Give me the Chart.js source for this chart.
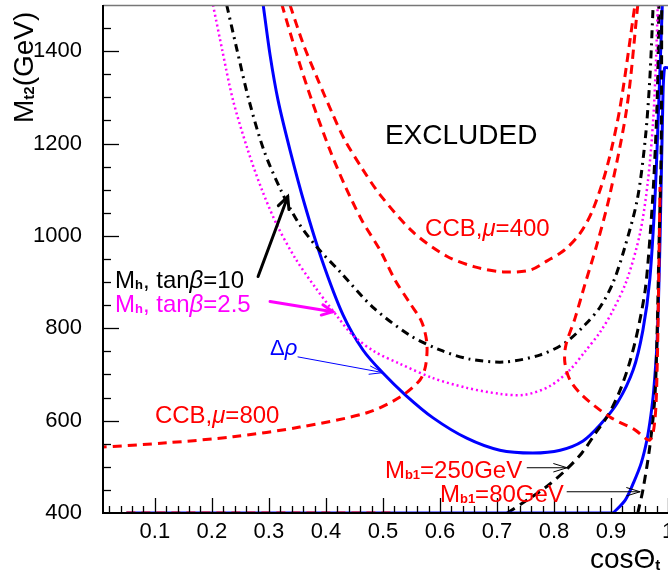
<!DOCTYPE html>
<html>
<head>
<meta charset="utf-8">
<script src="https://cdn.jsdelivr.net/npm/chart.js@4.4.1/dist/chart.umd.min.js"></script>
<style>
  html, body { margin: 0; padding: 0; background: #fff; }
  #wrap { width: 668px; height: 578px; }
</style>
</head>
<body>
<div id="wrap"><canvas id="c" width="668" height="578"></canvas></div>
<script>
// ---------- DATA ----------
const X_MIN = 0.009, X_MAX = 1.0, Y_MIN = 400, Y_MAX = 1500;
const xTickValues = [0.1, 0.2, 0.3, 0.4, 0.5, 0.6, 0.7, 0.8, 0.9, 1.0];
const yTickValues = [400, 600, 800, 1000, 1200, 1400];

// Δρ (blue solid, main U)
const dRhoX = [0.290, 0.302, 0.316, 0.337, 0.363, 0.393, 0.430, 0.465, 0.500, 0.539, 0.588, 0.647, 0.705, 0.763, 0.811, 0.851, 0.881, 0.911, 0.939, 0.956, 0.968, 0.977, 0.984, 0.990];
const dRhoY = [1500, 1392, 1294, 1186, 1067, 948, 829, 753, 703, 656, 606, 562, 536, 530, 536, 556, 591, 638, 710, 796, 905, 1078, 1294, 1500];
// blue solid, right wall
const blue2X = [0.904, 0.925, 0.940, 0.953, 0.963, 0.970, 0.975, 0.981, 0.986, 0.991, 0.994, 1.0];
const blue2Y = [400, 428, 467, 508, 558, 612, 666, 775, 991, 1294, 1364, 1364];
const blueFloorX = [0.05, 0.904];
const blueFloorY = [400, 400];

// M_h, tanβ=10 (black dash-dot)
const mh10X = [0.226, 0.244, 0.265, 0.291, 0.321, 0.351, 0.384, 0.425, 0.482, 0.547, 0.600, 0.653, 0.714, 0.775, 0.819, 0.854, 0.881, 0.904, 0.923, 0.946, 0.960, 0.968, 0.974];
const mh10Y = [1500, 1403, 1294, 1186, 1099, 1030, 976, 922, 846, 785, 753, 733, 727, 742, 768, 807, 846, 900, 970, 1078, 1208, 1338, 1500];

// M_h, tanβ=2.5 (magenta dotted)
const mh25X = [0.202, 0.218, 0.237, 0.263, 0.288, 0.314, 0.346, 0.381, 0.421, 0.447, 0.486, 0.530, 0.588, 0.647, 0.705, 0.749, 0.793, 0.828, 0.854, 0.881, 0.904, 0.928, 0.951, 0.965, 0.974, 0.979, 0.982];
const mh25Y = [1500, 1403, 1294, 1186, 1099, 1024, 952, 889, 824, 785, 749, 723, 692, 671, 658, 656, 675, 710, 749, 792, 840, 905, 1006, 1121, 1251, 1381, 1500];

// CCB, μ=400 (red dashed U)
const ccb400X = [0.337, 0.361, 0.386, 0.411, 0.433, 0.463, 0.495, 0.553, 0.612, 0.661, 0.711, 0.758, 0.788, 0.819, 0.846, 0.868, 0.893, 0.916, 0.942];
const ccb400Y = [1500, 1413, 1338, 1266, 1208, 1147, 1089, 1008, 956, 933, 922, 926, 946, 970, 1006, 1056, 1149, 1279, 1500];

// CCB, μ=800 (red dashed) left branch
const ccb800LX = [0.0, 0.121, 0.237, 0.354, 0.472, 0.530, 0.565, 0.575, 0.577, 0.568, 0.547, 0.521, 0.495, 0.463, 0.433, 0.407, 0.375, 0.349, 0.323];
const ccb800LY = [542, 552, 565, 586, 617, 651, 688, 720, 768, 814, 855, 905, 969, 1034, 1110, 1186, 1294, 1392, 1500];
// CCB, μ=800 right branch
const ccb800RX = [0.947, 0.928, 0.898, 0.875, 0.854, 0.837, 0.821, 0.819, 0.828, 0.851, 0.898, 0.942, 0.968, 0.977, 0.981, 0.984, 0.986];
const ccb800RY = [1500, 1279, 1089, 980, 894, 822, 764, 727, 688, 653, 608, 580, 558, 601, 716, 933, 1106];
const redFloorX = [0.05, 0.52];
const redFloorY = [400, 400];

// M_b1 = 250 GeV (black dashed)
const mb250X = [0.718, 0.753, 0.788, 0.819, 0.849, 0.874, 0.895, 0.916, 0.933, 0.947, 0.960, 0.968, 0.975, 0.981, 0.984];
const mb250Y = [400, 428, 458, 491, 530, 575, 612, 666, 727, 796, 883, 991, 1121, 1294, 1500];
// M_b1 = 80 GeV (black dashed)
const mb80X = [0.947, 0.956, 0.968, 0.977, 0.981, 0.984, 0.988, 0.989];
const mb80Y = [400, 450, 543, 651, 796, 969, 1186, 1500];

// ---------- helpers ----------
const pts = (xs, ys) => xs.map((x, i) => ({ x: x, y: ys[i] }));
const FONT = "'Liberation Sans', Arial, Helvetica, sans-serif";

function line(label, xs, ys, color, width, dash, tension) {
  return {
    label: label, data: pts(xs, ys), showLine: true, fill: false,
    borderColor: color, borderWidth: width, borderDash: dash || [],
    pointRadius: 0, pointHoverRadius: 0, tension: tension === undefined ? 0.3 : tension,
    borderCapStyle: 'butt'
  };
}

const datasets = [
  line('redFloor', redFloorX, redFloorY, '#ff0000', 3, [9, 6], 0),
  line('blueFloor', blueFloorX, blueFloorY, '#0000ff', 3, [], 0),
  line('CCB mu=400', ccb400X, ccb400Y, '#ff0000', 3, [9, 6]),
  line('CCB mu=800 L', ccb800LX, ccb800LY, '#ff0000', 3, [9, 6]),
  line('CCB mu=800 R', ccb800RX, ccb800RY, '#ff0000', 3, [9, 6]),
  line('Mh tb=2.5', mh25X, mh25Y, '#ff00ff', 2.5, [2, 3]),
  line('Mh tb=10', mh10X, mh10Y, '#000000', 3, [8, 5, 2, 5]),
  line('Mb1=250', mb250X, mb250Y, '#000000', 3, [9, 6]),
  line('Mb1=80', mb80X, mb80Y, '#000000', 3, [9, 6]),
  line('drho', dRhoX, dRhoY, '#0000ff', 3, []),
  line('blue2', blue2X, blue2Y, '#0000ff', 3, [])
];

function fontOf(p) {
  return (p.i ? 'italic ' : '') + (p.b ? 'bold ' : '') + p.s + 'px ' + FONT;
}
function rich(ctx, x, y, parts, color, align) {
  ctx.save();
  ctx.fillStyle = color;
  ctx.textBaseline = 'alphabetic';
  ctx.textAlign = 'left';
  let total = 0;
  parts.forEach(p => { ctx.font = fontOf(p); total += ctx.measureText(p.t).width; });
  let cx = align === 'center' ? x - total / 2 : x;
  parts.forEach(p => {
    ctx.font = fontOf(p);
    ctx.fillText(p.t, cx, y + (p.dy || 0));
    cx += ctx.measureText(p.t).width;
  });
  ctx.restore();
}
function arrow(ctx, x1, y1, x2, y2, color, width, head, ang) {
  ctx.save();
  ctx.strokeStyle = color; ctx.lineWidth = width; ctx.lineCap = 'round'; ctx.lineJoin = 'miter';
  ctx.setLineDash([]);
  ctx.beginPath(); ctx.moveTo(x1, y1); ctx.lineTo(x2, y2); ctx.stroke();
  const a = Math.atan2(y2 - y1, x2 - x1);
  ctx.beginPath();
  ctx.moveTo(x2 - head * Math.cos(a - ang), y2 - head * Math.sin(a - ang));
  ctx.lineTo(x2, y2);
  ctx.lineTo(x2 - head * Math.cos(a + ang), y2 - head * Math.sin(a + ang));
  ctx.stroke();
  ctx.restore();
}

// ---------- decorations plugin (axes frame, inward ticks, titles, labels) ----------
const deco = {
  id: 'deco',
  afterDatasetsDraw(chart) {
    const { ctx, chartArea: ca, scales } = chart;
    const X = v => scales.x.getPixelForValue(v);
    const Y = v => scales.y.getPixelForValue(v);
    ctx.save();
    ctx.setLineDash([]);
    ctx.strokeStyle = '#777'; ctx.lineWidth = 1.5;
    ctx.beginPath(); ctx.moveTo(ca.left, ca.top + 0.5); ctx.lineTo(ca.right, ca.top + 0.5); ctx.stroke();
    ctx.strokeStyle = '#000'; ctx.lineWidth = 2;
    ctx.beginPath(); ctx.moveTo(ca.left, ca.top); ctx.lineTo(ca.left, ca.bottom); ctx.lineTo(ca.right, ca.bottom); ctx.stroke();
    ctx.lineWidth = 1.3;
    for (let v = 450; v < Y_MAX; v += 50) {
      const major = (v - 400) % 200 === 0;
      const py = Math.round(Y(v)) + 0.5;
      ctx.beginPath(); ctx.moveTo(ca.left, py); ctx.lineTo(ca.left + (major ? 16 : 8), py); ctx.stroke();
    }
    for (let k = 1; k <= 50; k++) {
      const v = k * 0.02;
      const major = k % 5 === 0;
      const px = Math.round(X(v)) + 0.5;
      ctx.beginPath(); ctx.moveTo(px, ca.bottom); ctx.lineTo(px, ca.bottom - (major ? 15 : 7)); ctx.stroke();
    }
    ctx.restore();

    // axis titles
    ctx.save();
    ctx.translate(33, 123);
    ctx.rotate(-Math.PI / 2);
    rich(ctx, 0, 0, [{ t: 'M', s: 28 }, { t: 't2', s: 15, b: true, dy: 1 }, { t: '(GeV)', s: 28 }], '#000');
    ctx.restore();
    rich(ctx, 590, 568, [{ t: 'cos', s: 28 }, { t: 'Θ', s: 28 }, { t: 't', s: 15, b: true, dy: 2 }], '#000');

    // annotations (anchored in data coordinates)
    rich(ctx, X(0.5035), Y(1198), [{ t: 'EXCLUDED', s: 28 }], '#000');
    rich(ctx, X(0.574), Y(999), [{ t: 'CCB,', s: 24 }, { t: 'μ', s: 24, i: true }, { t: '=400', s: 24 }], '#ff0000');
    rich(ctx, X(0.030), Y(888), [{ t: 'M', s: 24 }, { t: 'h', s: 13, b: true, dy: 1 }, { t: ', tan', s: 24 }, { t: 'β', s: 24, i: true }, { t: '=10', s: 24 }], '#000');
    rich(ctx, X(0.030), Y(836), [{ t: 'M', s: 24 }, { t: 'h', s: 13, b: true, dy: 1 }, { t: ', tan', s: 24 }, { t: 'β', s: 24, i: true }, { t: '=2.5', s: 24 }], '#ff00ff');
    rich(ctx, X(0.302), Y(743), [{ t: 'Δ', s: 22 }, { t: 'ρ', s: 22, i: true }], '#0000ff');
    rich(ctx, X(0.100), Y(595), [{ t: 'CCB,', s: 24 }, { t: 'μ', s: 24, i: true }, { t: '=800', s: 24 }], '#ff0000');
    rich(ctx, X(0.5035), Y(476), [{ t: 'M', s: 24 }, { t: 'b1', s: 13, b: true, dy: 1 }, { t: '=250GeV', s: 24 }], '#ff0000');
    rich(ctx, X(0.600), Y(424), [{ t: 'M', s: 24 }, { t: 'b1', s: 13, b: true, dy: 1 }, { t: '=80GeV', s: 24 }], '#ff0000');

    // arrows
    arrow(ctx, X(0.281), Y(912), X(0.333), Y(1085), '#000', 3, 13, 0.45);
    arrow(ctx, X(0.302), Y(858), X(0.412), Y(836), '#ff00ff', 3, 12, 0.45);
    arrow(ctx, X(0.351), Y(738), X(0.500), Y(704), '#0000ff', 1, 14, 0.3);
    arrow(ctx, X(0.753), Y(498), X(0.823), Y(498), '#000', 1, 14, 0.3);
    arrow(ctx, X(0.823), Y(446), X(0.951), Y(446), '#000', 1, 14, 0.3);
  }
};

new Chart(document.getElementById('c'), {
  type: 'scatter',
  data: { datasets: datasets },
  options: {
    responsive: false,
    animation: false,
    events: [],
    layout: { padding: { left: 0, right: 0, top: 5, bottom: 0 } },
    plugins: { legend: { display: false }, tooltip: { enabled: false }, title: { display: false } },
    scales: {
      x: {
        type: 'linear', min: X_MIN, max: X_MAX,
        afterBuildTicks: s => { s.ticks = xTickValues.map(v => ({ value: v })); },
        afterFit: s => { s.height = 65; s.paddingLeft = 0; s.paddingRight = 0; },
        grid: { display: false, drawTicks: false },
        border: { display: false },
        ticks: {
          color: '#000', font: { family: FONT, size: 22 }, padding: 6,
          maxRotation: 0, minRotation: 0, autoSkip: false,
          callback: v => (Math.abs(v - 1) < 1e-9 ? '1' : Number(v).toFixed(1))
        }
      },
      y: {
        type: 'linear', min: Y_MIN, max: Y_MAX,
        afterBuildTicks: s => { s.ticks = yTickValues.map(v => ({ value: v })); },
        afterFit: s => { s.width = 103; s.paddingTop = 0; s.paddingBottom = 0; },
        grid: { display: false, drawTicks: false },
        border: { display: false },
        ticks: {
          color: '#000', font: { family: FONT, size: 22 }, padding: 21,
          autoSkip: false, callback: v => String(v)
        }
      }
    }
  },
  plugins: [deco]
});
</script>
</body>
</html>
